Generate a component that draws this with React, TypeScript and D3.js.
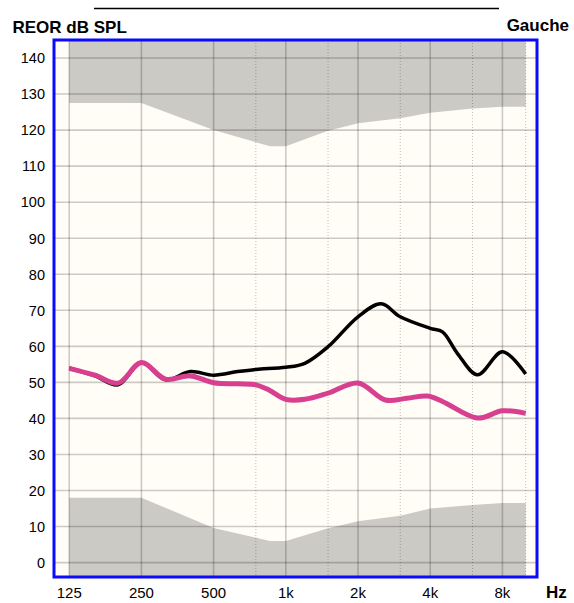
import React from "react";
import * as d3 from "d3";

// ---- data ----
const octaveTicks = [125, 250, 500, 1000, 2000, 4000, 8000];
const octaveLabels = ["125", "250", "500", "1k", "2k", "4k", "8k"];
const halfOctaveTicks = [750, 1500, 3000, 6000, 10000];
const dbTicks = [0, 10, 20, 30, 40, 50, 60, 70, 80, 90, 100, 110, 120, 130, 140];

const upperFreq = [125, 250, 500, 860, 1000, 1500, 2000, 3000, 4000, 6000, 8000, 10000];
const upperDb = [127.5, 127.5, 120, 115.5, 115.5, 119.8, 121.9, 123.3, 124.8, 126, 126.5, 126.5];
const lowerFreq = [125, 250, 500, 860, 1000, 1500, 2000, 3000, 4000, 6000, 8000, 10000];
const lowerDb = [18, 18, 9.6, 6, 6, 9.5, 11.5, 13, 15, 16, 16.5, 16.5];

const blackFreq = [125, 160, 200, 250, 315, 400, 500, 630, 750, 1000, 1200, 1500, 2000, 2500, 3000, 4000, 4500, 5200, 6300, 8000, 10000];
const blackDb = [54, 51.8, 49.3, 55.5, 50.7, 53, 52, 53, 53.6, 54.2, 55.3, 59.9, 68.2, 71.8, 68.2, 65, 64, 58, 52.1, 58.5, 52.3];
const pinkFreq = [125, 160, 200, 250, 315, 400, 500, 630, 750, 850, 1000, 1200, 1500, 2000, 2600, 3200, 3900, 4500, 6300, 8000, 10000];
const pinkDb = [53.9, 52, 49.8, 55.5, 50.9, 51.8, 49.9, 49.6, 49.3, 47.9, 45.3, 45.3, 47, 49.8, 45.1, 45.6, 46.2, 44.7, 40.1, 42.1, 41.4];

const W = 574;
const H = 603;
const L = 54, R = 537, T = 40, B = 577;

export default function App() {
  const x = d3.scaleLog().domain([108, 11150]).range([L, R]);
  const y = d3.scaleLinear().domain([-4, 145]).range([B, T]);

  const upperArea = d3
    .area<number>()
    .x((_, i) => x(upperFreq[i]))
    .y0(() => T)
    .y1((_, i) => y(upperDb[i]));
  const lowerArea = d3
    .area<number>()
    .x((_, i) => x(lowerFreq[i]))
    .y0(() => B)
    .y1((_, i) => y(lowerDb[i]));

  const line = (f: number[], v: number[]) =>
    d3
      .line<number>()
      .x((_, i) => x(f[i]))
      .y((d) => y(d))
      .curve(d3.curveCatmullRom.alpha(0.5))(v) as string;

  const font = "'Liberation Sans', Arial, sans-serif";

  return (
    <svg
      width={W}
      height={H}
      style={{ position: "absolute", left: 0, top: 0, background: "#ffffff" }}
      fontFamily={font}
    >
      <line x1={94} x2={499} y1={8.5} y2={8.5} stroke="#000" strokeWidth={1.5} />
      <text x={12.5} y={33} fontSize={17} fontWeight="bold" fill="#000">
        REOR dB SPL
      </text>
      <text x={569} y={31} fontSize={17} fontWeight="bold" fill="#000" textAnchor="end">
        Gauche
      </text>

      <rect x={L} y={T} width={R - L} height={B - T} fill="#fffdf6" />
      <path d={upperArea(upperDb) as string} fill="#cbcac5" />
      <path d={lowerArea(lowerDb) as string} fill="#cbcac5" />

      {dbTicks.map((d) => (
        <line key={"h" + d} x1={L} x2={R} y1={y(d)} y2={y(d)} stroke="#000" strokeOpacity={0.2} strokeWidth={1.6} />
      ))}
      {octaveTicks.map((f) => (
        <line key={"v" + f} x1={x(f)} x2={x(f)} y1={T} y2={B} stroke="#000" strokeOpacity={0.2} strokeWidth={1.6} />
      ))}
      {halfOctaveTicks.map((f) => (
        <line key={"d" + f} x1={x(f)} x2={x(f)} y1={T} y2={B} stroke="#000" strokeOpacity={0.25} strokeWidth={1} strokeDasharray="1,2" />
      ))}

      <path d={line(blackFreq, blackDb)} fill="none" stroke="#000" strokeWidth={3.5} strokeLinejoin="round" />
      <path d={line(pinkFreq, pinkDb)} fill="none" stroke="#d8408f" strokeWidth={5} strokeLinejoin="round" />

      <rect x={L} y={T} width={R - L} height={B - T} fill="none" stroke="#0a0aff" strokeWidth={3} />

      {dbTicks.map((d) => (
        <text key={"yl" + d} x={45} y={y(d) + 5.3} fontSize={14.5} textAnchor="end" fill="#000">
          {d}
        </text>
      ))}
      {octaveTicks.map((f, i) => (
        <text key={"xl" + f} x={x(f)} y={598} fontSize={15} textAnchor="middle" fill="#000">
          {octaveLabels[i]}
        </text>
      ))}
      <text x={546} y={598} fontSize={17} fontWeight="bold" fill="#000">
        Hz
      </text>
    </svg>
  );
}
